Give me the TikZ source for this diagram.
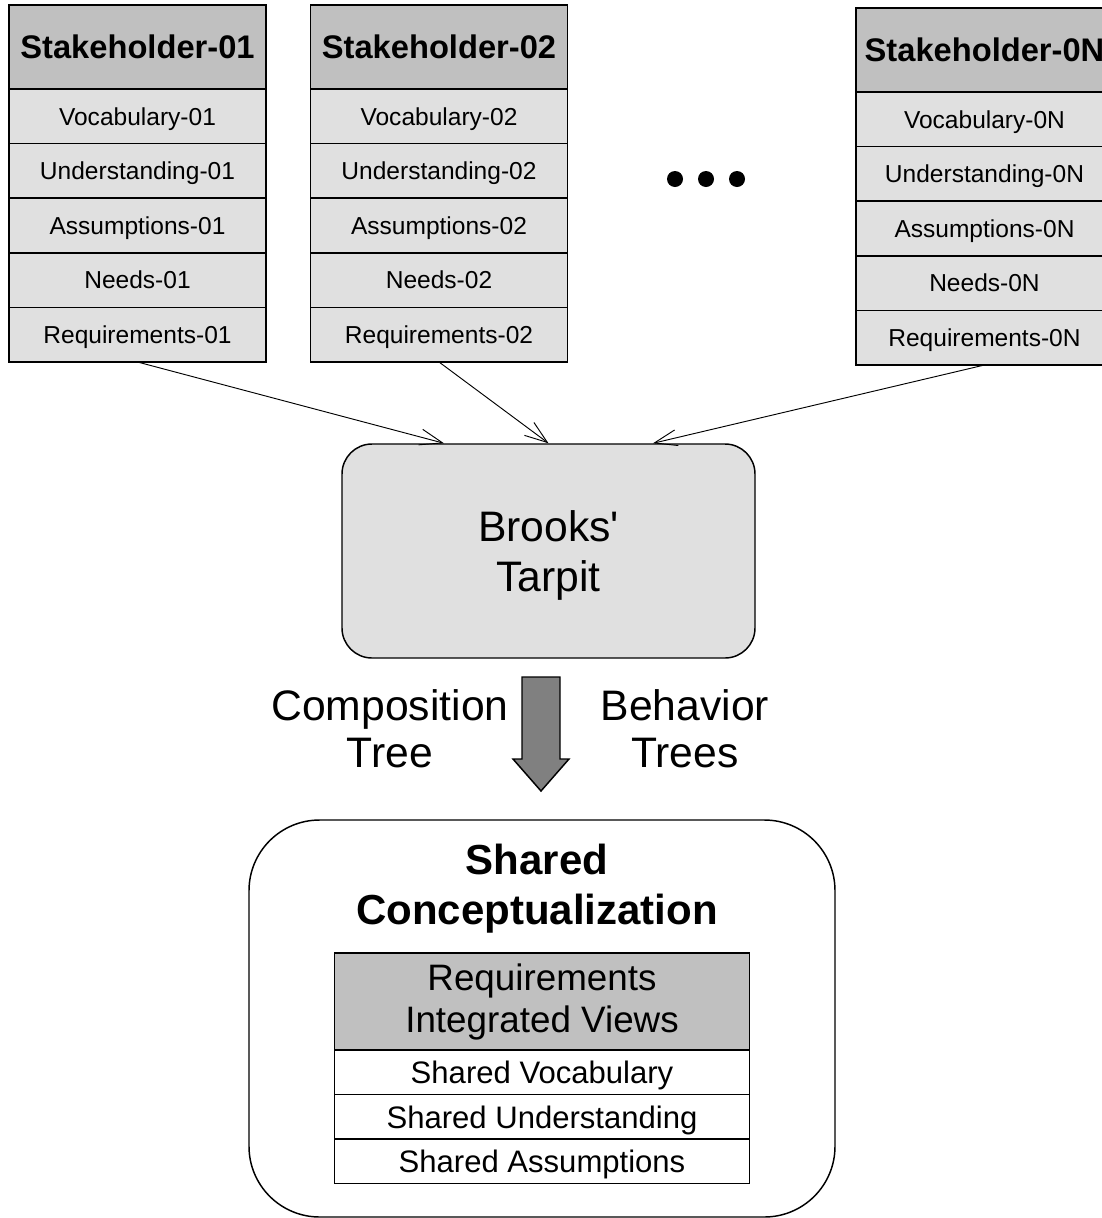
\documentclass[tikz,border=0pt]{standalone}
\usepackage{fontspec}
\setmainfont{Liberation Sans}
\usetikzlibrary{arrows.meta,calc}

\definecolor{hdrgray}{HTML}{C0C0C0}
\definecolor{rowgray}{HTML}{E0E0E0}
\definecolor{blockgray}{HTML}{808080}

\tikzset{
  hdr/.style={draw, line width=1.1pt, fill=hdrgray, minimum width=192.75pt,
    minimum height=63pt, inner sep=0pt, outer sep=0pt, anchor=north,
    text height=17.6pt, text depth=0pt,
    font=\fontsize{24.5}{28}\selectfont\bfseries},
  cell/.style={draw, line width=1.1pt, fill=rowgray, minimum width=192.75pt,
    minimum height=40.95pt, inner sep=0pt, outer sep=0pt, anchor=north,
    text height=13.2pt, text depth=0pt,
    font=\fontsize{18.4}{21}\selectfont},
  conn/.style={line width=0.7pt, -{Straight Barb[length=17pt,width=12pt,line width=0.7pt]}},
  dot/.style={circle, fill=black, minimum size=12pt, inner sep=0pt},
  tarpitbox/.style={draw, line width=1.1pt, fill=rowgray, rounded corners=22.5pt,
    minimum width=309.75pt, minimum height=160.5pt},
  lbl/.style={align=center, font=\fontsize{32}{35}\selectfont, inner sep=0pt},
  tarpittext/.style={align=center, font=\fontsize{32}{37.5}\selectfont, inner sep=0pt},
  sharedbox/.style={draw, line width=1.1pt, rounded corners=53pt},
  sharedtitle/.style={align=center, inner sep=0pt,
    font=\fontsize{31.5}{37.5}\selectfont\bfseries},
  ivhdr/.style={draw, line width=1.1pt, fill=hdrgray, minimum width=311pt,
    minimum height=72.75pt, inner sep=0pt, outer sep=0pt, anchor=north, align=center,
    font=\fontsize{27.6}{31.5}\selectfont},
  ivcell/.style={draw, line width=1.1pt, fill=white, minimum width=311pt,
    minimum height=33.4pt, inner sep=0pt, outer sep=0pt, anchor=north,
    text height=16.8pt, text depth=0pt,
    font=\fontsize{23.3}{27}\selectfont},
}

% one stakeholder column: #1 name prefix, #2 centre x, #3 top y, #4 number
\newcommand{\stakecolumn}[4]{%
  \node[hdr]  (#1h)  at (#2,#3)   {Stakeholder-#4};
  \node[cell] (#1r1) at (#1h.south)  {Vocabulary-#4};
  \node[cell] (#1r2) at (#1r1.south) {Understanding-#4};
  \node[cell] (#1r3) at (#1r2.south) {Assumptions-#4};
  \node[cell] (#1r4) at (#1r3.south) {Needs-#4};
  \node[cell] (#1r5) at (#1r4.south) {Requirements-#4};
}

\begin{document}
\begin{tikzpicture}[x=0.75pt,y=-0.75pt]
\useasboundingbox (0,0) rectangle (1102,1218);

% stakeholder columns
\stakecolumn{sa}{137.5}{5}{01}
\stakecolumn{sb}{439}{5}{02}
\stakecolumn{sc}{984.5}{8}{0N}

% ellipsis between the columns
\node[dot] (d1) at (675,179) {};
\node[dot] (d2) at (706,179) {};
\node[dot] (d3) at (737,179) {};

% central box
\node[tarpitbox] (tarpit) at (548.5,551) {};
\node[tarpittext] (tarpitlabel) at ([yshift=-3.5pt]tarpit.center)
  {Brooks\textquotesingle\\Tarpit};
\coordinate (ta) at ([xshift=-78.4pt]tarpit.north);
\coordinate (tb) at (tarpit.north);
\coordinate (tc) at ([xshift=78.4pt]tarpit.north);

\draw[conn] (sar5.south) -- (ta);
\draw[conn] (sbr5.south) -- (tb);
\draw[conn] (scr5.south) -- (tc);

% block arrow with its two labels
\coordinate (ba) at (541,677);
\draw[line width=1.1pt, fill=blockgray, line join=miter]
  ($(ba)+(-19,0)$) -- ($(ba)+(19,0)$) -- ($(ba)+(19,82)$) -- ($(ba)+(28,82)$)
  -- ($(ba)+(0,114)$) -- ($(ba)+(-28,82)$) -- ($(ba)+(-19,82)$) -- cycle;
\node[lbl] (comp) at (390,729) {Composition\\Tree};
\node[lbl] (beh)  at (685,729) {Behavior\\Trees};

% shared conceptualization
\draw[sharedbox] (249,820) rectangle (835,1217);
\node[sharedtitle] (shared) at (537,889) {Shared\\Conceptualization};
\node[ivhdr]  (iv)  at (542,953)     {Requirements\\Integrated Views};
\node[ivcell] (iv1) at (iv.south)    {Shared Vocabulary};
\node[ivcell] (iv2) at (iv1.south)   {Shared Understanding};
\node[ivcell] (iv3) at (iv2.south)   {Shared Assumptions};
\draw[line width=2pt] (iv.south west) -- (iv.south east);
\end{tikzpicture}
\end{document}
